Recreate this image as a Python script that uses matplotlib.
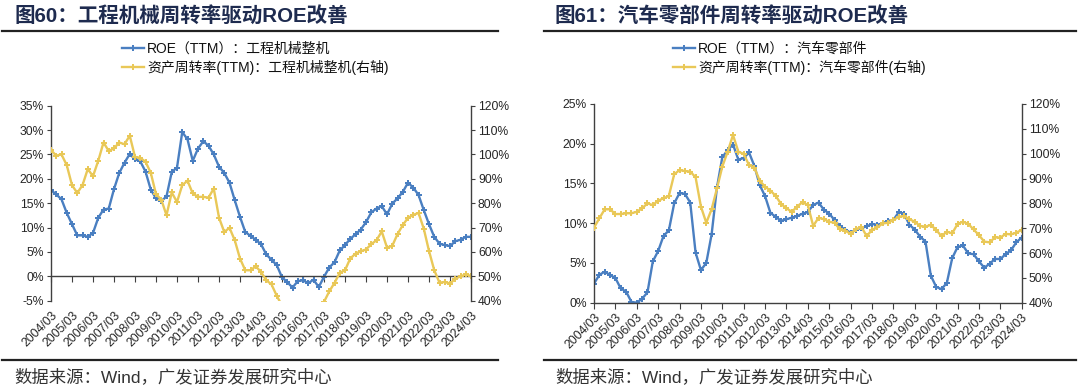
import matplotlib
matplotlib.use('Agg')
import matplotlib.pyplot as plt
from matplotlib.lines import Line2D
import matplotlib.ticker as mticker

plt.rcParams['font.family'] = ['Liberation Sans', 'Noto Sans CJK SC', 'DejaVu Sans']

# ---------------- data ----------------
quarters = [f"{y}/{m:02d}" for y in range(2004, 2025) for m in (3, 6, 9, 12)][:81]
tick_labels = ['2004/03', '2005/03', '2006/03', '2007/03', '2008/03', '2009/03', '2010/03',
               '2011/03', '2012/03', '2013/03', '2014/03', '2015/03', '2016/03', '2017/03',
               '2018/03', '2019/03', '2020/03', '2021/03', '2022/03', '2023/03', '2024/03']

# 工程机械整机
roe_machinery = [17.7, 16.8, 15.8, 13.0, 10.7, 8.4, 8.4, 8.1, 8.9, 12.0,
                 13.7, 13.9, 17.9, 21.2, 23.3, 25.1, 24.0, 23.6, 21.5, 17.8,
                 16.0, 15.4, 16.4, 21.4, 22.3, 29.6, 28.1, 23.7, 26.2, 27.7,
                 26.8, 25.0, 22.5, 21.2, 19.2, 15.6, 12.2, 9.1, 8.3, 7.5,
                 6.6, 4.5, 3.4, 2.3, -0.2, -1.2, -2.3, -1.0, -0.8, -1.4,
                 -0.7, -2.2, -0.1, 1.8, 2.9, 5.3, 6.4, 7.7, 8.6, 9.6,
                 11.1, 13.1, 13.9, 14.4, 12.7, 14.9, 16.0, 17.3, 19.2, 18.2,
                 16.7, 13.6, 10.7, 8.1, 6.7, 6.4, 6.2, 7.2, 7.5, 8.1,
                 8.1]
turn_machinery = [101.8, 99.5, 100.0, 95.6, 87.4, 84.2, 87.4, 94.0, 91.1, 97.4,
                  104.9, 101.4, 102.5, 104.9, 104.2, 107.7, 99.0, 98.6, 97.0, 92.5,
                  83.7, 81.5, 75.1, 84.4, 80.5, 87.4, 89.2, 84.0, 82.6, 82.6,
                  82.3, 86.0, 74.1, 68.2, 69.9, 64.8, 57.3, 52.5, 52.5, 54.1,
                  51.8, 48.4, 46.7, 42.0, 38.0, 37.0, 36.0, 35.0, 35.0, 36.0,
                  37.0, 38.0, 39.5, 43.8, 47.3, 51.4, 52.5, 57.3, 59.3, 60.3,
                  61.0, 63.2, 64.8, 68.4, 61.8, 62.5, 67.3, 71.0, 74.0, 75.2,
                  76.0, 69.6, 60.4, 52.5, 47.4, 47.7, 47.0, 49.0, 50.0, 50.8,
                  50.1]

# 汽车零部件
roe_auto = [2.4, 3.5, 3.9, 3.5, 3.1, 1.8, 1.4, 0.1, 0.0, 0.5,
            1.3, 5.2, 6.5, 8.4, 9.1, 12.5, 13.8, 13.7, 12.6, 6.3,
            4.1, 5.0, 8.6, 14.5, 18.3, 19.2, 19.9, 18.0, 18.2, 18.9,
            17.2, 14.8, 13.4, 11.3, 10.8, 10.3, 10.5, 10.7, 10.9, 11.2,
            11.4, 12.3, 12.6, 11.7, 11.2, 10.4, 9.6, 9.2, 8.8, 9.2,
            9.4, 9.6, 9.9, 9.8, 10.0, 10.3, 10.4, 11.4, 11.2, 9.8,
            9.2, 8.3, 7.7, 3.4, 2.0, 1.7, 2.5, 5.6, 7.0, 7.2,
            6.2, 6.1, 5.2, 4.4, 4.9, 5.5, 5.5, 6.1, 6.6, 7.6,
            8.2]
turn_auto = [70.2, 74.0, 77.6, 77.6, 75.7, 75.7, 76.0, 76.0, 76.6, 78.0,
             80.0, 79.3, 81.1, 82.0, 83.0, 91.7, 93.4, 93.0, 92.8, 90.5,
             78.7, 72.2, 77.6, 86.0, 94.8, 100.8, 107.5, 100.8, 99.9, 95.4,
             94.4, 89.1, 86.7, 85.1, 83.0, 79.7, 78.0, 76.6, 78.7, 80.5,
             79.3, 70.9, 74.2, 73.6, 72.6, 72.2, 69.5, 69.0, 67.7, 69.5,
             70.6, 66.8, 69.3, 70.3, 71.9, 72.2, 73.3, 74.6, 74.9, 73.6,
             72.6, 70.9, 70.6, 71.3, 69.3, 66.8, 68.6, 67.9, 71.7, 72.6,
             71.7, 69.5, 67.2, 64.6, 64.3, 66.3, 66.2, 67.7, 67.5, 68.2,
             69.3]

BLUE = '#4A7FC1'
YELLOW = '#E9C858'
SPINE = '#404040'
TXT = '#262626'

xpos = list(range(len(quarters)))
tick_pos = [quarters.index(t) for t in tick_labels]
pct = mticker.FuncFormatter(lambda v, p: f"{v:.0f}%")

fig = plt.figure(figsize=(10.8, 3.92), dpi=100)


def style_axes(ax, axb, zero_line):
    ax.spines['top'].set_visible(False)
    axb.spines['top'].set_visible(False)
    axb.spines['bottom'].set_visible(False)
    axb.spines['left'].set_visible(False)
    ax.spines['right'].set_visible(False)
    for sp in [ax.spines['left'], ax.spines['bottom'], axb.spines['right']]:
        sp.set_color(SPINE)
        sp.set_linewidth(1.0)
    if zero_line:
        ax.spines['bottom'].set_position(('data', 0))
    ax.set_xlim(0, 80)
    ax.set_xticks(tick_pos)
    ax.tick_params(axis='x', direction='out', length=4, color=SPINE, labelbottom=False)
    ax.tick_params(axis='y', direction='out', length=3, color=SPINE, labelsize=8.7,
                   labelcolor=TXT, pad=2)
    axb.tick_params(axis='y', direction='out', length=3, color=SPINE, labelsize=8.7,
                    labelcolor=TXT, pad=2)
    ax.yaxis.set_major_formatter(pct)
    axb.yaxis.set_major_formatter(pct)
    sec = ax.secondary_xaxis('bottom')
    sec.set_xticks(tick_pos)
    sec.set_xticklabels(tick_labels, rotation=45, ha='right', va='top',
                        rotation_mode='anchor', fontsize=8.7, color=TXT)
    sec.tick_params(length=0, pad=6)
    sec.spines['bottom'].set_visible(False)
    ax.patch.set_visible(False)


def draw_panel(rect, roe, turn, ylim, yticks, title, lab1, lab2, title_x, leg_x, line_x):
    ax = fig.add_axes(rect)
    axb = ax.twinx()
    l1, = ax.plot(xpos, roe, color=BLUE, lw=1.7, marker='P', ms=3.8, mew=0)
    l2, = axb.plot(xpos, turn, color=YELLOW, lw=1.7, marker='P', ms=3.8, mew=0)
    ax.set_ylim(*ylim)
    ax.set_yticks(yticks)
    axb.set_ylim(40, 120)
    axb.set_yticks(range(40, 121, 10))
    style_axes(ax, axb, ylim[0] < 0)
    fig.text(title_x / 1080, 1 - 16 / 392, title, fontsize=14.8, fontweight='bold',
             va='center', ha='left', color='#1E2B4F')
    fig.add_artist(Line2D([line_x[0] / 1080, line_x[1] / 1080], [1 - 31 / 392] * 2,
                          color='#222222', lw=1.6))
    fig.add_artist(Line2D([line_x[0] / 1080, line_x[1] / 1080], [1 - 359.5 / 392] * 2,
                          color='#222222', lw=1.6))
    fig.text(title_x / 1080, 1 - 377 / 392, '数据来源：Wind，广发证券发展研究中心',
             fontsize=12.5, va='center', ha='left', color='#333333')
    ax.legend([l1, l2], [lab1, lab2], loc='upper left',
              bbox_to_anchor=(leg_x / 1080, 1 - 42 / 392), bbox_transform=fig.transFigure,
              frameon=False, handlelength=1.6, handletextpad=0.2, labelspacing=0.3,
              fontsize=10, borderaxespad=0, borderpad=0, labelcolor='#111111')
    return ax, axb


draw_panel([51 / 1080, 1 - 300.7 / 392, 420 / 1080, 195 / 392],
           roe_machinery, turn_machinery, (-5, 35), range(-5, 36, 5),
           '图60：工程机械周转率驱动ROE改善',
           'ROE（TTM）：工程机械整机', '资产周转率(TTM)：工程机械整机(右轴)',
           14, 122, (2, 498))

draw_panel([594 / 1080, 1 - 302.7 / 392, 427.7 / 1080, 198.7 / 392],
           roe_auto, turn_auto, (0, 25), range(0, 26, 5),
           '图61：汽车零部件周转率驱动ROE改善',
           'ROE（TTM）：汽车零部件', '资产周转率(TTM)：汽车零部件(右轴)',
           555, 673, (544, 1076))

fig.savefig('out.png', dpi=100)
